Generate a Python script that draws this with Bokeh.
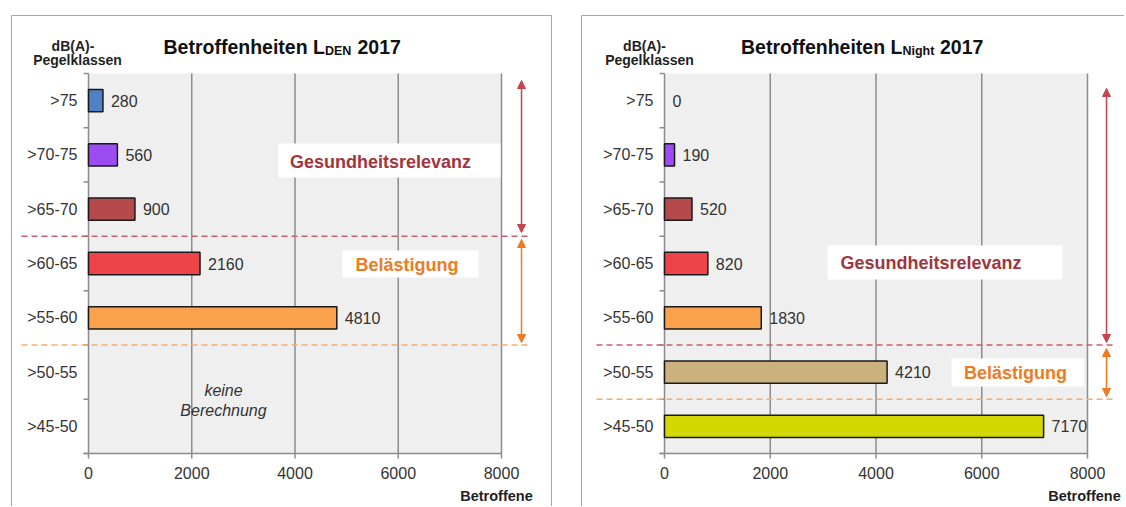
from bokeh.plotting import figure
from bokeh.layouts import row
from bokeh.models import ColumnDataSource, Range1d, Arrow, NormalHead
from bokeh.core.properties import value
from bokeh.embed import file_html
from bokeh.resources import INLINE

# ---------------- data ----------------
categories = [">75", ">70-75", ">65-70", ">60-65", ">55-60", ">50-55", ">45-50"]
bar_colors = ["#4f81c4", "#9d4cf2", "#b44a4c", "#ee4347", "#fba24d", "#cbb27c", "#d3d900"]
den_values = [280, 560, 900, 2160, 4810, None, None]
night_values = [0, 190, 520, 820, 1830, 4210, 7170]
x_ticks = [0, 2000, 4000, 6000, 8000]
x_tick_labels = ["0", "2000", "4000", "6000", "8000"]
title_main = "Betroffenheiten L"
den_sub = "DEN"
night_sub = "Night"
title_year = "2017"

FONT = value("Liberation Sans")
RED = "#a3343c"
RED_ARROW = "#c4474f"
RED_DASH = "#c95f67"
ORANGE = "#ee7b22"
ORANGE_DASH = "#f6ad6c"
AXIS = "#8c8c8c"
TXT = "#333333"

FRAME_TOP, FRAME_BOTTOM = 73, 453
CANVAS_TOP, CANVAS_H = 14, 492
N = len(categories)
ypos = [N - i - 0.5 for i in range(N)]


def make_panel(values, sub, cfg):
    fl, fr = cfg["fl"], cfg["fr"]
    xmax = x_ticks[-1]

    def X(px):
        return (px - fl) / (fr - fl) * xmax

    def Y(py):
        return (FRAME_BOTTOM - py) / (FRAME_BOTTOM - FRAME_TOP) * N

    cx, cw = cfg["cx"], cfg["cw"]
    p = figure(width=cw, height=CANVAS_H, output_backend="svg", toolbar_location=None,
               title=None, x_axis_location=None, y_axis_location=None,
               x_range=Range1d(X(cx), X(cx + cw)),
               y_range=Range1d(Y(CANVAS_TOP + CANVAS_H), Y(CANVAS_TOP)),
               min_border=0)
    p.margin = (CANVAS_TOP, 0, 0, cfg["ml"])
    p.background_fill_color = "white"
    p.border_fill_color = "white"
    p.outline_line_color = None
    p.grid.visible = False

    def txt(px, py, s, size, style="normal", color=TXT, align="center", baseline="middle"):
        p.text(x=[X(px)], y=[Y(py)], text=[s], text_font=FONT, text_font_size=value(size),
               text_font_style=style, text_color=color, text_align=align,
               text_baseline=baseline)

    # panel border
    bx0, bx1 = cfg["border"]
    p.segment(x0=[X(bx0), X(bx0)], y0=[Y(15), Y(15)], x1=[X(bx1), X(bx0)], y1=[Y(15), Y(510)],
              line_color="#a6a6a6", line_width=1)
    if cfg.get("border_right"):
        p.segment(x0=[X(bx1)], y0=[Y(15)], x1=[X(bx1)], y1=[Y(510)],
                  line_color="#a6a6a6", line_width=1)

    # plot area
    p.quad(left=[0], right=[xmax], bottom=[0], top=[N], fill_color="#efefef", line_color=None)
    p.segment(x0=x_ticks, y0=[0] * len(x_ticks), x1=x_ticks, y1=[N] * len(x_ticks),
              line_color=AXIS, line_width=1.5)
    # x axis line + ticks
    p.segment(x0=[X(fl - 5)], y0=[0], x1=[xmax], y1=[0], line_color=AXIS, line_width=1.5)
    p.segment(x0=x_ticks, y0=[0] * len(x_ticks), x1=x_ticks, y1=[Y(FRAME_BOTTOM + 5)] * len(x_ticks),
              line_color=AXIS, line_width=1.5)
    # y axis boundary ticks
    bounds = list(range(N + 1))
    p.segment(x0=[X(fl - 5)] * len(bounds), y0=bounds, x1=[0] * len(bounds), y1=bounds,
              line_color=AXIS, line_width=1.5)
    # tick labels
    p.text(x=x_ticks, y=[Y(472)] * len(x_ticks), text=x_tick_labels, text_font=FONT,
           text_font_size=value("16px"), text_color=TXT, text_align="center",
           text_baseline="middle")
    p.text(x=[X(fl - 11)] * N, y=ypos, text=categories, text_font=FONT,
           text_font_size=value("16px"), text_color=TXT, text_align="right",
           text_baseline="middle")

    # bars
    bars = [(y, v, c) for y, v, c in zip(ypos, values, bar_colors) if v]
    src = ColumnDataSource(dict(y=[b[0] for b in bars], v=[b[1] for b in bars],
                                c=[b[2] for b in bars]))
    p.hbar(y="y", left=0, right="v", height=0.41, fill_color="c", line_color="#1a1a1a",
           line_width=1.5, source=src)
    labs = [(y, v) for y, v in zip(ypos, values) if v is not None]
    p.text(x=[l[1] for l in labs], y=[l[0] for l in labs], text=[str(l[1]) for l in labs],
           x_offset=8, text_font=FONT, text_font_size=value("16px"), text_color=TXT,
           text_align="left", text_baseline="middle")

    # labelled white boxes
    for (x0, y0, x1, y1), (tx, ty), s, colr in (
            (cfg["g_box"], cfg["g_txt"], "Gesundheitsrelevanz", RED),
            (cfg["b_box"], cfg["b_txt"], "Belästigung", ORANGE)):
        p.quad(left=[X(x0)], right=[X(x1)], top=[Y(y0)], bottom=[Y(y1)], fill_color="white",
               line_color=None)
        txt(tx, ty, s, "18px", "bold", colr)

    # threshold dashed lines
    d0, d1 = cfg["dash"]
    for yb, colr in ((cfg["red_b"], RED_DASH), (cfg["or_b"], ORANGE_DASH)):
        p.segment(x0=[X(d0)], y0=[yb], x1=[X(d1)], y1=[yb], line_color=colr, line_width=1.5,
                  line_dash="6 4")
    # double arrows
    for (ya, yb), colr in ((cfg["red_arrow"], RED_ARROW), (cfg["or_arrow"], ORANGE)):
        p.add_layout(Arrow(x_start=X(cfg["ax"]), x_end=X(cfg["ax"]), y_start=Y(ya), y_end=Y(yb),
                           line_color=colr, line_width=1.5,
                           start=NormalHead(size=8, fill_color=colr, line_color=colr),
                           end=NormalHead(size=8, fill_color=colr, line_color=colr)))

    # titles / captions
    txt(cfg["t0"], 46, title_main, "19.5px", "bold", "#111111", "left", "alphabetic")
    txt(cfg["t1"], 50, sub, "12.5px", "bold", "#111111", "left", "alphabetic")
    txt(cfg["t2"], 46, title_year, "19.5px", "bold", "#111111", "left", "alphabetic")
    txt(cfg["db"], 45, "dB(A)-", "14px", "bold", "#1f1f1f")
    txt(cfg["peg"], 59, "Pegelklassen", "14px", "bold", "#1f1f1f")
    txt(cfg["betr"], 495, "Betroffene", "14.5px", "bold", "#1f1f1f")
    for (tx, ty, s) in cfg.get("extra", []):
        txt(tx, ty, s, "16px", "italic", TXT)
    return p


left_cfg = dict(fl=88, fr=501, cx=10, cw=543, ml=10, border=(11, 551), border_right=True,
                t0=163, t1=324.4, t2=357, db=72.5, peg=77, betr=496,
                red_b=4, or_b=2, dash=(21, 529), ax=521,
                red_arrow=(232, 80), or_arrow=(342, 239),
                g_box=(278, 143, 500, 177), g_txt=(380, 161),
                b_box=(342, 250, 478, 277), b_txt=(406.5, 264),
                extra=[(223, 390, "keine"), (223, 410, "Berechnung")])

right_cfg = dict(fl=664, fr=1087, cx=580, cw=544, ml=27, border=(581, 1130), border_right=False,
                 t0=740.5, t1=901.9, t2=939.5, db=644, peg=649, betr=1084,
                 red_b=2, or_b=1, dash=(596, 1115), ax=1106,
                 red_arrow=(342, 88), or_arrow=(396, 348),
                 g_box=(827, 245, 1062, 279), g_txt=(930.5, 262),
                 b_box=(951, 358, 1084, 386), b_txt=(1015, 372))

p1 = make_panel(den_values, den_sub, left_cfg)
p2 = make_panel(night_values, night_sub, right_cfg)

layout = row(p1, p2)
open("out.html", "w").write(file_html(layout, INLINE))
